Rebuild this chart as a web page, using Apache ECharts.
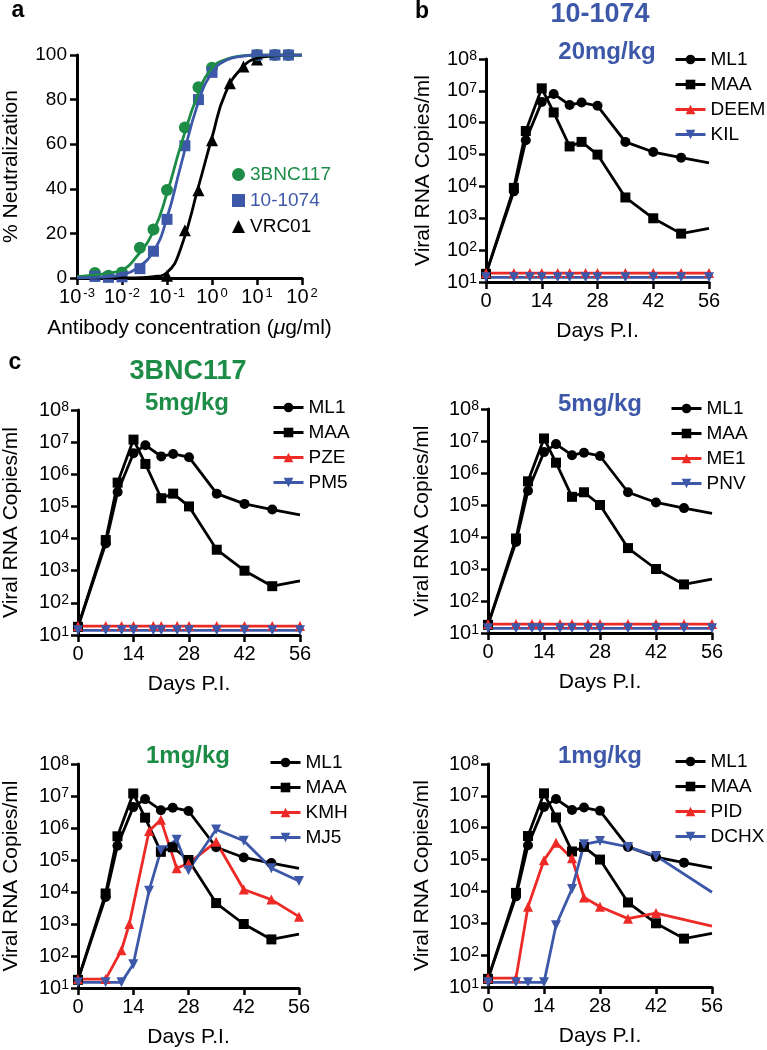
<!DOCTYPE html>
<html>
<head>
<meta charset="utf-8">
<script src="https://cdn.jsdelivr.net/npm/echarts@6/dist/echarts.min.js"></script>
<style>
html, body { margin: 0; padding: 0; background: #fff; }
#main { width: 767px; height: 1050px; }
</style>
</head>
<body>
<div id="main"></div>
<script>
// ---- panel a: neutralization (concentration in ug/ml, % neutralization)
var concPts = [0.0025, 0.005, 0.01, 0.025, 0.05, 0.1, 0.25, 0.5, 1, 10, 25, 50];
var neut3BNC117 = [2.2, 1, 2.5, 13.6, 21.7, 39.5, 67.5, 85.5, 94.3, 100, 100, 100];
var neut101074 = [0.7, 0.3, 0.5, 4.2, 12, 26.3, 59.3, 80, 92.2, 100, 100, 100];
var concVRC01 = [0.1, 0.25, 0.5, 1, 2.5, 5, 10];
var neutVRC01 = [1, 21.4, 39.4, 61.8, 87.3, 94.8, 98];
// fitted curves
var fitConc = [0.001, 0.002, 0.005, 0.01, 0.02, 0.05, 0.1, 0.2, 0.5, 1, 2, 5, 10, 20, 50, 100];
var fit3BNC117 = [0.6, 1.2, 2.2, 3.6, 9, 21, 38, 59, 83, 94, 98, 99.7, 100, 100, 100, 100];
var fit101074 = [0.1, 0.2, 0.6, 1.5, 4, 12, 27, 50, 79, 92, 97.5, 99.5, 100, 100, 100, 100];
var fitVRC01 = [0, 0, 0, 0, 0.1, 0.6, 2.5, 13, 41, 63, 83, 95, 98.5, 99.5, 100, 100];

// ---- viral loads (copies/ml) by day post infection
var daysCtrl = [0, 7, 10, 14, 17, 21, 24, 28, 35, 42, 49, 56];
var vlML1 = [18, 7000, 2.8e5, 4.5e6, 8e6, 3.6e6, 4.3e6, 3.4e6, 2.5e5, 1.2e5, 8e4, 5.5e4];
var vlMAA = [18, 9000, 5.5e5, 1.2e7, 2.1e6, 1.8e5, 2.5e5, 1.0e5, 4.5e3, 1.0e3, 330, 480];

var daysB = [0, 7, 11, 14, 18, 21, 25, 28, 35, 42, 49, 56];
var vlDEEM = [19, 19, 19, 19, 19, 19, 19, 19, 19, 19, 19, 19];
var vlKIL = [14, 14, 14, 14, 14, 14, 14, 14, 14, 14, 14, 14];

var daysC1 = [0, 7, 11, 14, 19, 21, 25, 28, 35, 42, 49, 56];
var vlPZE = [19, 19, 19, 19, 19, 19, 19, 19, 19, 19, 19, 19];
var vlPM5 = [14, 14, 14, 14, 14, 14, 14, 14, 14, 14, 14, 14];

var daysC2 = [0, 7, 11, 13, 18, 21, 25, 28, 35, 42, 49, 56];
var vlME1 = [19, 19, 19, 19, 19, 19, 19, 19, 19, 19, 19, 19];
var vlPNV = [14, 14, 14, 14, 14, 14, 14, 14, 14, 14, 14, 14];

var daysKMH = [0, 7, 11, 13, 18, 21, 25, 28, 35, 42, 49, 56];
var vlKMH = [19, 19, 150, 1000, 8e5, 1.8e6, 5.5e4, 7.8e4, 3.7e5, 1.2e4, 5.8e3, 1.7e3];
var daysMJ5 = [0, 7, 11, 14, 18, 21, 25, 28, 35, 42, 49, 56];
var vlMJ5 = [15, 15, 15, 55, 1.1e4, 2e5, 4.3e5, 4.8e4, 9e5, 4e5, 5.5e4, 2.2e4];

var daysPID = [0, 7, 10, 14, 17, 21, 24, 28, 35, 42, 56];
var vlPID = [19, 19, 3300, 9.5e4, 3.4e5, 1.1e5, 6500, 3300, 1400, 2100, 810];
var vlDCHX = [14, 14, 14, 14, 870, 1.2e4, 3e5, 3.8e5, 2.5e5, 1.3e5, 9400];

var GREEN = '#1d8c47';
var BLUE = '#3d58a8';
var RED = '#ee2a26';
var BLACK = '#000000';
var FONT = 'Liberation Sans';

var myChart = echarts.init(document.getElementById('main'));

var grids = [], xAxes = [], yAxes = [], series = [], legends = [], titles = [];

function sup(v) {
    var e = Math.round(Math.log(v) / Math.LN10);
    return '{b|10}{s|' + e + '}';
}

var tickStyle = { show: true, length: 7, lineStyle: { color: BLACK, width: 2.5 } };
var lineStyleAxis = { show: true, onZero: false, lineStyle: { color: BLACK, width: 3 } };

// ---- panel a
grids.push({ left: 77, top: 55, width: 225, height: 223 });
xAxes.push({
    gridIndex: 0, type: 'log', logBase: 10, min: 0.001, max: 100,
    axisLine: lineStyleAxis, axisTick: tickStyle, splitLine: { show: false },
    axisLabel: {
        formatter: sup, margin: 9, color: BLACK,
        rich: {
            b: { fontSize: 20, lineHeight: 20, padding: [3, 0, 0, 0], verticalAlign: 'bottom', fontFamily: FONT },
            s: { fontSize: 13, lineHeight: 13, padding: [0, 0, 0, 2], verticalAlign: 'top', fontFamily: FONT }
        }
    },
    name: 'Antibody concentration ({i|μ}g/ml)', nameLocation: 'middle', nameGap: 40,
    nameTextStyle: { fontSize: 21, color: BLACK, rich: { i: { fontSize: 21, fontStyle: 'italic', fontFamily: FONT } } }
});
yAxes.push({
    gridIndex: 0, type: 'value', min: 0, max: 100, interval: 20,
    axisLine: lineStyleAxis, axisTick: tickStyle, splitLine: { show: false },
    axisLabel: { fontSize: 19, color: BLACK, margin: 10 },
    name: '% Neutralization', nameLocation: 'middle', nameGap: 55,
    nameTextStyle: { fontSize: 21, color: BLACK }
});

function pairs(xs, ys) {
    return xs.map(function (x, i) { return [x, ys[i]]; });
}

var antibodies = [
    { name: 'VRC01', color: BLACK, symbol: 'triangle', size: 12, cx: concVRC01, cy: neutVRC01, fit: fitVRC01 },
    { name: '3BNC117', color: GREEN, symbol: 'circle', size: 12, cx: concPts, cy: neut3BNC117, fit: fit3BNC117 },
    { name: '10-1074', color: BLUE, symbol: 'rect', size: 11, cx: concPts, cy: neut101074, fit: fit101074 }
];
antibodies.forEach(function (ab) {
    series.push({
        type: 'line', name: ab.name + ' fit', xAxisIndex: 0, yAxisIndex: 0,
        data: pairs(fitConc, ab.fit), smooth: 0.5,
        symbol: 'none', lineStyle: { color: ab.color, width: 2.8 }, silent: true
    });
    series.push({
        type: 'scatter', name: ab.name, xAxisIndex: 0, yAxisIndex: 0,
        data: pairs(ab.cx, ab.cy), symbol: ab.symbol, symbolSize: ab.size,
        itemStyle: { color: ab.color, opacity: 1 }
    });
});
legends.push({
    orient: 'vertical', left: 227, top: 160, itemWidth: 13, itemHeight: 13, itemGap: 7,
    textStyle: { fontSize: 19, fontFamily: FONT },
    data: [
        { name: '3BNC117', textStyle: { color: GREEN } },
        { name: '10-1074', textStyle: { color: BLUE } },
        { name: 'VRC01', textStyle: { color: BLACK } }
    ]
});

// ---- viral load panels
var supRichY = {
    b: { fontSize: 20, lineHeight: 20, padding: [4, 0, 0, 0], verticalAlign: 'bottom', fontFamily: FONT },
    s: { fontSize: 14, lineHeight: 14, verticalAlign: 'top', fontFamily: FONT }
};

function dayData(days, vals, endMarker) {
    return days.map(function (d, i) {
        var item = { value: [d, vals[i]] };
        if (!endMarker && i === days.length - 1) item.symbol = 'none';
        return item;
    });
}

function controls() {
    return [
        { name: 'ML1', days: daysCtrl, vals: vlML1, color: BLACK, symbol: 'circle', endMarker: false },
        { name: 'MAA', days: daysCtrl, vals: vlMAA, color: BLACK, symbol: 'rect', endMarker: false }
    ];
}

function dayPanel(box, animals, legendPos, nameGapY) {
    var idx = grids.length;
    grids.push({ left: box[0], top: box[1], width: box[2], height: box[3] });
    xAxes.push({
        gridIndex: idx, type: 'value', min: 0, max: 56, interval: 14,
        axisLine: lineStyleAxis, axisTick: tickStyle, splitLine: { show: false },
        axisLabel: { fontSize: 20, color: BLACK, margin: 9 },
        name: 'Days P.I.', nameLocation: 'middle', nameGap: 39,
        nameTextStyle: { fontSize: 21, color: BLACK }
    });
    yAxes.push({
        gridIndex: idx, type: 'log', logBase: 10, min: 10, max: 1e8,
        axisLine: lineStyleAxis, axisTick: tickStyle, splitLine: { show: false },
        axisLabel: { formatter: sup, rich: supRichY, color: BLACK, margin: 9 },
        name: 'Viral RNA Copies/ml', nameLocation: 'middle', nameGap: nameGapY,
        nameTextStyle: { fontSize: 21, color: BLACK }
    });
    animals.forEach(function (a) {
        series.push({
            type: 'line', name: a.name, xAxisIndex: idx, yAxisIndex: idx,
            data: dayData(a.days, a.vals, a.endMarker),
            symbol: a.symbol, symbolSize: 10,
            symbolRotate: a.rotate || 0, showAllSymbol: true,
            lineStyle: { color: a.color, width: 2.8 },
            itemStyle: { color: a.color },
            clip: false
        });
    });
    legends.push({
        orient: 'vertical', left: legendPos[0], top: legendPos[1],
        itemWidth: 30, itemHeight: 12, itemGap: 6,
        lineStyle: { width: 3 },
        textStyle: { fontSize: 19, color: BLACK, fontFamily: FONT },
        data: animals.map(function (a) { return a.name; })
    });
}

dayPanel([486, 59, 223, 223], controls().concat([
    { name: 'DEEM', days: daysB, vals: vlDEEM, color: RED, symbol: 'triangle', endMarker: true },
    { name: 'KIL', days: daysB, vals: vlKIL, color: BLUE, symbol: 'triangle', rotate: 180, endMarker: true }
]), [669, 45], 52);

dayPanel([76, 410, 224, 225], controls().concat([
    { name: 'PZE', days: daysC1, vals: vlPZE, color: RED, symbol: 'triangle', endMarker: true },
    { name: 'PM5', days: daysC1, vals: vlPM5, color: BLUE, symbol: 'triangle', rotate: 180, endMarker: true }
]), [267, 393], 56);

dayPanel([488, 409, 224, 224], controls().concat([
    { name: 'ME1', days: daysC2, vals: vlME1, color: RED, symbol: 'triangle', endMarker: true },
    { name: 'PNV', days: daysC2, vals: vlPNV, color: BLUE, symbol: 'triangle', rotate: 180, endMarker: true }
]), [665, 394], 55);

dayPanel([76, 764, 223, 224], controls().concat([
    { name: 'KMH', days: daysKMH, vals: vlKMH, color: RED, symbol: 'triangle', endMarker: true },
    { name: 'MJ5', days: daysMJ5, vals: vlMJ5, color: BLUE, symbol: 'triangle', rotate: 180, endMarker: true }
]), [264, 748], 56);

dayPanel([488, 764, 224, 223], controls().concat([
    { name: 'PID', days: daysPID, vals: vlPID, color: RED, symbol: 'triangle', endMarker: false },
    { name: 'DCHX', days: daysPID, vals: vlDCHX, color: BLUE, symbol: 'triangle', rotate: 180, endMarker: false }
]), [669, 747], 55);

// ---- panel letters and titles
function label(text, x, y, size, color) {
    titles.push({
        text: text, left: x, top: y, textAlign: 'center', textVerticalAlign: 'middle', padding: 0,
        textStyle: { fontSize: size, fontWeight: 'bold', color: color, fontFamily: FONT }
    });
}
label('a', 18, 11, 23, BLACK);
label('b', 422, 12, 23, BLACK);
label('c', 15, 363, 23, BLACK);
label('10-1074', 600, 15, 27, BLUE);
label('20mg/kg', 607, 52, 24, BLUE);
label('3BNC117', 188, 372, 27, GREEN);
label('5mg/kg', 187, 403, 24, GREEN);
label('5mg/kg', 600, 404, 24, BLUE);
label('1mg/kg', 188, 756, 24, GREEN);
label('1mg/kg', 600, 756, 24, BLUE);

var option = {
    animation: false,
    textStyle: { fontFamily: FONT },
    title: titles,
    grid: grids,
    xAxis: xAxes,
    yAxis: yAxes,
    legend: legends,
    series: series
};
myChart.setOption(option);
</script>
</body>
</html>
